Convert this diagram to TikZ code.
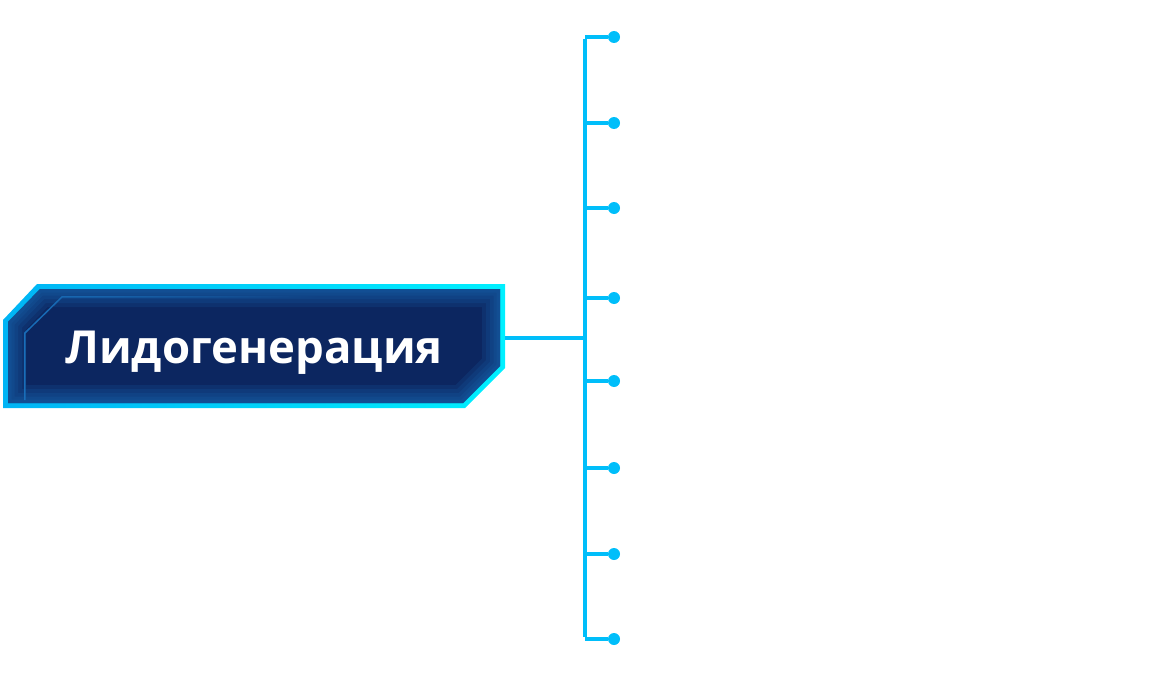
\documentclass[tikz,border=0pt]{standalone}
\usepackage{fontspec}
\newfontfamily\leadfont{Open Sans}
\usetikzlibrary{fadings}
\definecolor{linecyan}{RGB}{0,190,250}
\definecolor{rimleft}{RGB}{0,180,245}
\definecolor{rimright}{RGB}{0,240,255}
\definecolor{navy}{RGB}{12,38,96}
\definecolor{glowblue}{RGB}{25,110,185}
\tikzset{
  branch/.style={draw=linecyan, line width=4pt},
  dot/.style={circle, fill=linecyan, inner sep=0pt, minimum size=12pt},
  glow/.style={draw=glowblue, opacity=.16},
  leadtext/.style={text=white, font=\leadfont\bfseries\fontsize{45.5}{50}\selectfont, inner sep=0pt}
}
\begin{document}
\begin{tikzpicture}[x=1pt,y=-1pt]
\useasboundingbox (0,0) rectangle (1154,685);
% box
\shade[left color=rimleft, right color=rimright] (37,284) -- (505,284) -- (505,368) -- (465,408) -- (3,408) -- (3,320) -- cycle;
\fill[navy] (40,289) -- (500,289) -- (500,366) -- (463,403) -- (8,403) -- (8,322) -- cycle;
\begin{scope}
\clip (40,289) -- (500,289) -- (500,366) -- (463,403) -- (8,403) -- (8,322) -- cycle;
\draw[glow, line width=36pt] (40,289) -- (500,289) -- (500,366) -- (463,403) -- (8,403) -- (8,322) -- cycle;
\draw[glow, line width=28pt] (40,289) -- (500,289) -- (500,366) -- (463,403) -- (8,403) -- (8,322) -- cycle;
\draw[glow, line width=20pt] (40,289) -- (500,289) -- (500,366) -- (463,403) -- (8,403) -- (8,322) -- cycle;
\draw[glow, line width=13pt] (40,289) -- (500,289) -- (500,366) -- (463,403) -- (8,403) -- (8,322) -- cycle;
\draw[glow, line width=7pt] (40,289) -- (500,289) -- (500,366) -- (463,403) -- (8,403) -- (8,322) -- cycle;
\end{scope}
\draw[glowblue, line width=1.5pt, path fading=east] (25,400) -- (25,333) -- (62,297) -- (320,297);
\node[leadtext, anchor=base west] (lead) at (65,363) {Лидогенерация};
\coordinate (leadR) at (505,338);
% tree
\coordinate (hub) at (585,338);
\coordinate (j1) at (585,37);
\coordinate (j2) at (585,123);
\coordinate (j3) at (585,208);
\coordinate (j4) at (585,298);
\coordinate (j5) at (585,381);
\coordinate (j6) at (585,468);
\coordinate (j7) at (585,554);
\coordinate (j8) at (585,639);
\node[dot] (d1) at (614,37){};
\node[dot] (d2) at (614,123){};
\node[dot] (d3) at (614,208){};
\node[dot] (d4) at (614,298){};
\node[dot] (d5) at (614,381){};
\node[dot] (d6) at (614,468){};
\node[dot] (d7) at (614,554){};
\node[dot] (d8) at (614,639){};
\draw[branch] (leadR) -- (hub);
\draw[branch] ([yshift=-2pt]j1) -- ([yshift=2pt]j8);
\draw[branch] (j1) -- (d1);
\draw[branch] (j2) -- (d2);
\draw[branch] (j3) -- (d3);
\draw[branch] (j4) -- (d4);
\draw[branch] (j5) -- (d5);
\draw[branch] (j6) -- (d6);
\draw[branch] (j7) -- (d7);
\draw[branch] (j8) -- (d8);

\end{tikzpicture}
\end{document}
